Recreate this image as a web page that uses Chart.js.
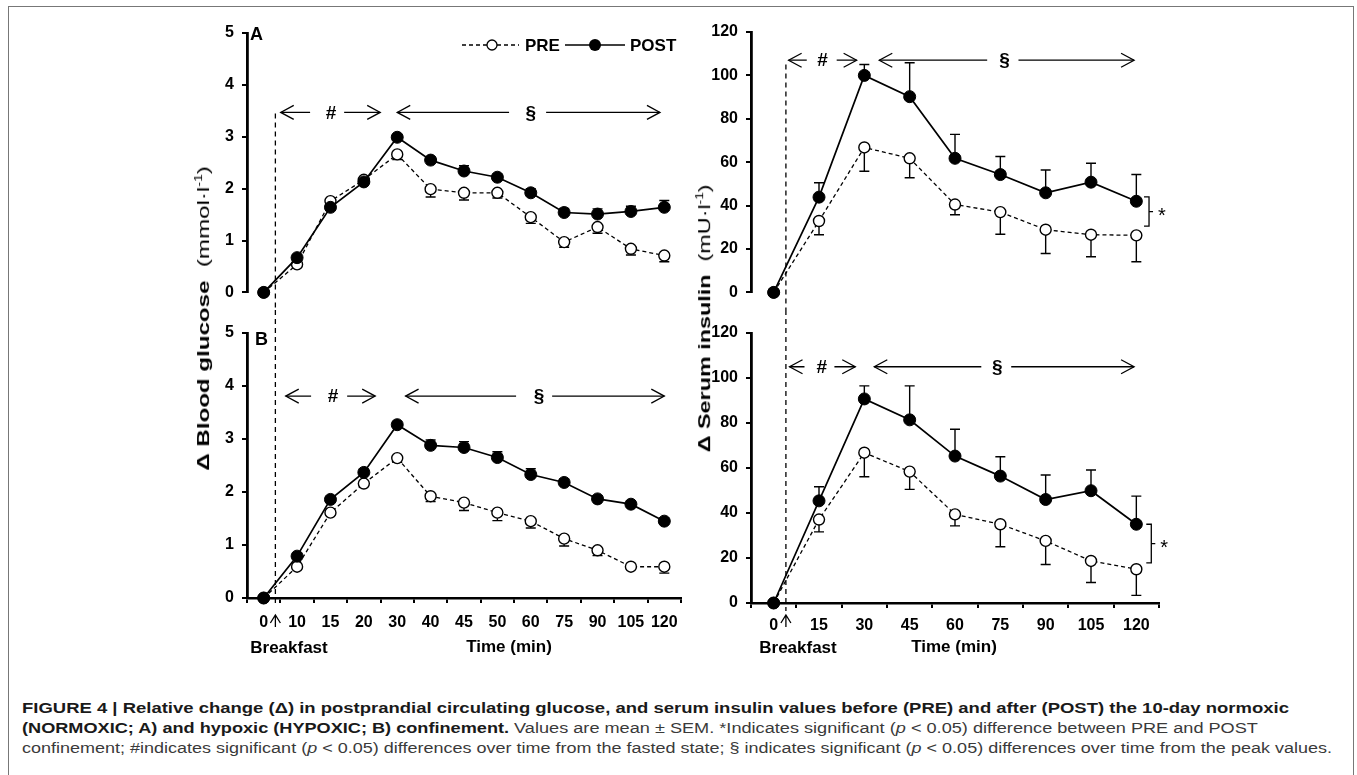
<!DOCTYPE html>
<html>
<head>
<meta charset="utf-8">
<script src="https://cdn.jsdelivr.net/npm/chart.js@4/dist/chart.umd.min.js"></script>
<style>
  html, body { margin:0; padding:0; background:#fff; }
  #wrap { position:relative; width:1357px; height:775px; overflow:hidden; background:#fff; font-family:'Liberation Sans', Arial, sans-serif; }
  #frame { position:absolute; left:8px; top:6px; width:1346px; height:780px; border:1.5px solid #777; box-sizing:border-box; }
  canvas { position:absolute; }
  .lbl { position:absolute; font-weight:bold; font-size:17px; color:#000; white-space:nowrap; transform:translate(-50%,-50%); }
  .ytitle { position:absolute; font-size:17px; color:#000; white-space:nowrap; transform-origin:center center; }
  .ytitle b { font-weight:bold; }
  .cap { position:absolute; left:22px; font-size:14px; line-height:20px; white-space:nowrap; color:#3a3a3a; transform-origin:left center; }
  .cap b { color:#1a1a1a; }
</style>
</head>
<body>
<div id="wrap">
  <div id="frame"></div>
  <canvas id="gA" width="520" height="300" style="left:170px;top:10px;"></canvas>
  <canvas id="gB" width="520" height="330" style="left:170px;top:310px;"></canvas>
  <canvas id="iA" width="530" height="300" style="left:680px;top:10px;"></canvas>
  <canvas id="iB" width="530" height="330" style="left:680px;top:310px;"></canvas>

  <div class="ytitle" id="yt1" data-cx="203" data-cy="318" data-len="305"><b>Δ Blood glucose</b>&nbsp; (mmol·l<sup style="font-size:10px">-1</sup>)</div>
  <div class="ytitle" id="yt2" data-cx="704" data-cy="318" data-len="268"><b>Δ Serum insulin</b>&nbsp; (mU·l<sup style="font-size:10px">-1</sup>)</div>

  <div class="lbl" style="left:289px;top:648px;">Breakfast</div>
  <div class="lbl" style="left:509px;top:647px;">Time (min)</div>
  <div class="lbl" style="left:798px;top:648px;">Breakfast</div>
  <div class="lbl" style="left:954px;top:647px;">Time (min)</div>

  <div class="cap" id="c1" data-w="1267" style="top:698px;"><b>FIGURE 4 | Relative change (Δ) in postprandial circulating glucose, and serum insulin values before (PRE) and after (POST) the 10-day normoxic</b></div>
  <div class="cap" id="c2" data-w="1236" style="top:718px;"><b>(NORMOXIC; A) and hypoxic (HYPOXIC; B) confinement.</b> Values are mean ± SEM. *Indicates significant (<i>p</i> &lt; 0.05) difference between PRE and POST</div>
  <div class="cap" id="c3" data-w="1310" style="top:738px;">confinement; #indicates significant (<i>p</i> &lt; 0.05) differences over time from the fasted state; § indicates significant (<i>p</i> &lt; 0.05) differences over time from the peak values.</div>
</div>

<script>
// ---------- DATA ----------
const glucoseTimes = ['0','10','15','20','30','40','45','50','60','75','90','105','120'];
const insulinTimes = ['0','15','30','45','60','75','90','105','120'];
const glucoseTicks = [0,1,2,3,4,5];
const insulinTicks = [0,20,40,60,80,100,120];

// Panel A (NORMOXIC) blood glucose, mmol/l
const glucPostA    = [0, 0.67, 1.64, 2.13, 2.99, 2.55, 2.34, 2.22, 1.92, 1.54, 1.51, 1.56, 1.64];
const glucPostAErr = [0, 0.05, 0.05, 0.06, 0.05, 0.06, 0.10, 0.06, 0.08, 0.08, 0.10, 0.10, 0.13];
const glucPreA     = [0, 0.54, 1.76, 2.17, 2.66, 1.99, 1.92, 1.92, 1.45, 0.97, 1.26, 0.84, 0.71];
const glucPreAErr  = [0, 0.05, 0.05, 0.05, 0.10, 0.15, 0.14, 0.10, 0.12, 0.10, 0.12, 0.12, 0.12];

// Panel B (HYPOXIC) blood glucose
const glucPostB    = [0, 0.79, 1.86, 2.37, 3.27, 2.88, 2.84, 2.65, 2.33, 2.18, 1.87, 1.77, 1.45];
const glucPostBErr = [0, 0.05, 0.05, 0.06, 0.06, 0.10, 0.11, 0.11, 0.11, 0.06, 0.06, 0.06, 0.06];
const glucPreB     = [0, 0.59, 1.61, 2.16, 2.64, 1.92, 1.80, 1.61, 1.45, 1.12, 0.90, 0.59, 0.59];
const glucPreBErr  = [0, 0.05, 0.05, 0.05, 0.08, 0.10, 0.15, 0.15, 0.13, 0.14, 0.10, 0.05, 0.12];

// Panel A serum insulin, mU/l
const insPostA    = [0, 43.9, 100.0, 90.2, 61.8, 54.3, 45.9, 50.8, 42.0];
const insPostAErr = [0, 6.6, 5.0, 15.6, 11.0, 8.3, 10.5, 8.7, 12.3];
const insPreA     = [0, 32.9, 66.8, 61.8, 40.5, 37.0, 28.9, 26.6, 26.3];
const insPreAErr  = [0, 6.3, 11.0, 9.0, 4.7, 10.2, 11.0, 10.2, 12.2];

// Panel B serum insulin
const insPostB    = [0, 45.4, 90.7, 81.4, 65.3, 56.4, 46.0, 49.9, 35.0];
const insPostBErr = [0, 6.3, 5.8, 15.1, 11.9, 8.6, 10.9, 9.2, 12.5];
const insPreB     = [0, 37.1, 66.8, 58.4, 39.4, 35.0, 27.6, 18.7, 15.0];
const insPreBErr  = [0, 5.5, 10.7, 7.9, 5.1, 10.0, 10.5, 9.6, 11.6];

// ---------- ANNOTATION PLACEMENT (category-index / value units) ----------
const annots = {
  gA: { y: 3.47, hash: [0.51,1.39,2.02,2.41,3.49], sect: [4.0,7.35,8.0,8.46,11.87], breakX: 0.35, dashTop: 3.45, letter: 'A', legend: true },
  gB: { y: 3.81, hash: [0.66,1.42,2.08,2.5,3.34], sect: [4.25,7.56,8.25,8.64,12.0], breakX: 0.35, letter: 'B', arrow: [17, 29] },
  iA: { y: 107, hash: [0.33,0.73,1.08,1.39,1.83], sect: [2.33,4.71,5.09,5.4,7.95], breakX: 0.27, dashTop: 105, bracket: [8.28, 44, 30.5] },
  iB: { y: 105, hash: [0.35,0.68,1.06,1.34,1.8], sect: [2.22,4.58,4.93,5.24,7.95], breakX: 0.27, bracket: [8.33, 35, 17.8], arrow: [12, 24] }
};

const FONT = "'Liberation Sans', Arial, sans-serif";
Chart.defaults.font.family = FONT;
Chart.defaults.font.weight = 'bold';
Chart.defaults.font.size = 16;
Chart.defaults.color = '#000';

function xAt(chart, idx) {
  const x = chart.scales.x;
  const p0 = x.getPixelForValue(0), p1 = x.getPixelForValue(1);
  return p0 + idx * (p1 - p0);
}

function chevron(ctx, x, y, dir) { // dir -1 left, +1 right
  ctx.beginPath();
  ctx.moveTo(x - dir*13, y - 7);
  ctx.lineTo(x, y);
  ctx.lineTo(x - dir*13, y + 7);
  ctx.stroke();
}

const errorBars = {
  id: 'errorBars',
  beforeDatasetsDraw(chart) {
    const ctx = chart.ctx, ys = chart.scales.y;
    chart.data.datasets.forEach((ds, di) => {
      const meta = chart.getDatasetMeta(di);
      meta.data.forEach((pt, i) => {
        const e = ds.err[i];
        if (!e) return;
        const y2 = ys.getPixelForValue(ds.data[i] + ds.errDir * e);
        ctx.save();
        ctx.strokeStyle = '#000'; ctx.lineWidth = 1.4; ctx.setLineDash([]);
        ctx.beginPath();
        ctx.moveTo(pt.x, pt.y); ctx.lineTo(pt.x, y2);
        ctx.moveTo(pt.x - 5, y2); ctx.lineTo(pt.x + 5, y2);
        ctx.stroke();
        ctx.restore();
      });
    });
  }
};

const decorations = {
  id: 'decorations',
  afterDraw(chart) {
    const a = annots[chart.canvas.id];
    const ctx = chart.ctx, ys = chart.scales.y, ca = chart.chartArea;
    ctx.save();
    ctx.strokeStyle = '#000'; ctx.fillStyle = '#000';

    // dashed breakfast line
    const bx = xAt(chart, a.breakX);
    ctx.lineWidth = 1.3; ctx.setLineDash([5, 4]);
    ctx.beginPath();
    if (a.dashTop !== undefined) { ctx.moveTo(bx, ys.getPixelForValue(a.dashTop)); ctx.lineTo(bx, chart.height); }
    else { ctx.moveTo(bx, 0); ctx.lineTo(bx, ca.bottom + 8); }
    ctx.stroke();
    ctx.setLineDash([]);

    // significance arrows
    const y = ys.getPixelForValue(a.y);
    ctx.lineWidth = 1.3;
    [a.hash, a.sect].forEach((s, k) => {
      const l1 = xAt(chart, s[0]), l2 = xAt(chart, s[1]), c = xAt(chart, s[2]), r1 = xAt(chart, s[3]), r2 = xAt(chart, s[4]);
      ctx.beginPath(); ctx.moveTo(l1, y); ctx.lineTo(l2, y); ctx.moveTo(r1, y); ctx.lineTo(r2, y); ctx.stroke();
      chevron(ctx, l1, y, -1); chevron(ctx, r2, y, 1);
      ctx.font = 'bold 19px ' + FONT; ctx.textAlign = 'center'; ctx.textBaseline = 'middle';
      ctx.fillText(k === 0 ? '#' : '§', c, y + 1);
    });

    // breakfast up-arrow under axis
    if (a.arrow) {
      const t = ca.bottom + a.arrow[0], b = ca.bottom + a.arrow[1];
      ctx.lineWidth = 1.3;
      ctx.beginPath(); ctx.moveTo(bx, t); ctx.lineTo(bx, b);
      ctx.moveTo(bx - 5, t + 8); ctx.lineTo(bx, t); ctx.lineTo(bx + 5, t + 8); ctx.stroke();
    }

    // panel letter
    if (a.letter) {
      ctx.font = 'bold 18px ' + FONT; ctx.textAlign = 'left'; ctx.textBaseline = 'middle';
      ctx.fillText(a.letter, ca.left + 3 + (a.letter === 'B' ? 5 : 0), ca.top + (a.letter === 'B' ? 7 : 2));
    }

    // legend
    if (a.legend) {
      const ly = ca.top + 12, R = ca.right;
      ctx.lineWidth = 1.3; ctx.setLineDash([4, 3]);
      ctx.beginPath(); ctx.moveTo(R - 219, ly); ctx.lineTo(R - 162, ly); ctx.stroke();
      ctx.setLineDash([]);
      ctx.beginPath(); ctx.arc(R - 189, ly, 5, 0, Math.PI * 2); ctx.fillStyle = '#fff'; ctx.fill(); ctx.stroke();
      ctx.fillStyle = '#000';
      ctx.font = 'bold 17px ' + FONT; ctx.textAlign = 'left'; ctx.textBaseline = 'middle';
      ctx.fillText('PRE', R - 156, ly + 1);
      ctx.lineWidth = 1.6;
      ctx.beginPath(); ctx.moveTo(R - 116, ly); ctx.lineTo(R - 56, ly); ctx.stroke();
      ctx.beginPath(); ctx.arc(R - 86, ly, 6, 0, Math.PI * 2); ctx.fill();
      ctx.fillText('POST', R - 51, ly + 1);
    }

    // significance bracket
    if (a.bracket) {
      const x = xAt(chart, a.bracket[0]), t = ys.getPixelForValue(a.bracket[1]), b = ys.getPixelForValue(a.bracket[2]);
      const m = (t + b) / 2;
      ctx.lineWidth = 1.3;
      ctx.beginPath();
      ctx.moveTo(x - 5, t); ctx.lineTo(x, t); ctx.lineTo(x, b); ctx.lineTo(x - 5, b);
      ctx.moveTo(x, m); ctx.lineTo(x + 4, m);
      ctx.stroke();
      ctx.font = '20px ' + FONT; ctx.textAlign = 'left'; ctx.textBaseline = 'middle';
      ctx.fillText('*', x + 9, m + 5);
    }
    ctx.restore();
  }
};

function makeChart(id, labels, post, postErr, pre, preErr, yMax, step, ticksArr, showX, yWidth, pad, xHeight, xPad) {
  return new Chart(document.getElementById(id), {
    type: 'line',
    data: {
      labels: labels,
      datasets: [
        { label: 'POST', data: post, err: postErr, errDir: 1,
          borderColor: '#000', borderWidth: 1.7, pointRadius: 6, pointBackgroundColor: '#000',
          pointBorderColor: '#000', pointBorderWidth: 1, tension: 0, clip: false, fill: false },
        { label: 'PRE', data: pre, err: preErr, errDir: -1,
          borderColor: '#000', borderWidth: 1.3, borderDash: [4, 3], pointRadius: 5.5, pointBackgroundColor: '#fff',
          pointBorderColor: '#000', pointBorderWidth: 1.4, tension: 0, clip: false, fill: false }
      ]
    },
    options: {
      responsive: false, animation: false, events: [],
      layout: { padding: pad },
      plugins: { legend: { display: false }, tooltip: { enabled: false }, title: { display: false } },
      scales: {
        x: {
          type: 'category', offset: true, display: showX,
          grid: { display: true, drawOnChartArea: false, drawTicks: true, tickLength: 5, color: '#000', lineWidth: 2, offset: true },
          border: { display: true, color: '#000', width: 2.5 },
          ticks: { autoSkip: false, maxRotation: 0, minRotation: 0, padding: xPad, font: { size: 16, weight: 'bold' }, color: '#000' },
          afterFit(scale) { if (xHeight) scale.height = xHeight; }
        },
        y: {
          min: 0, max: yMax,
          afterBuildTicks(scale) { scale.ticks = ticksArr.map(v => ({ value: v })); },
          grid: { display: true, drawOnChartArea: false, drawTicks: true, tickLength: 5, color: '#000', lineWidth: 2 },
          border: { display: true, color: '#000', width: 2.8 },
          ticks: { stepSize: step, padding: 8, font: { size: 16, weight: 'bold' }, color: '#000' },
          afterFit(scale) { scale.width = yWidth; }
        }
      }
    },
    plugins: [errorBars, decorations]
  });
}

makeChart('gA', glucoseTimes, glucPostA, glucPostAErr, glucPreA, glucPreAErr, 5, 1, glucoseTicks, false, 77, { top: 23, right: 9, bottom: 15, left: 0 }, 0, 9);
makeChart('gB', glucoseTimes, glucPostB, glucPostBErr, glucPreB, glucPreBErr, 5, 1, glucoseTicks, true, 77, { top: 23, right: 9, bottom: 0, left: 0 }, 42, 10);
makeChart('iA', insulinTimes, insPostA, insPostAErr, insPreA, insPreAErr, 120, 20, insulinTicks, false, 71, { top: 22, right: 51, bottom: 16, left: 0 }, 0, 8);
makeChart('iB', insulinTimes, insPostB, insPostBErr, insPreB, insPreBErr, 120, 20, insulinTicks, true, 71, { top: 23, right: 51, bottom: 0, left: 0 }, 37, 8);

// fit caption lines and axis titles
['c1','c2','c3'].forEach(id => {
  const el = document.getElementById(id);
  const w = el.scrollWidth;
  el.style.transform = 'scaleX(' + (parseFloat(el.dataset.w) / w) + ')';
});
['yt1','yt2'].forEach(id => {
  const el = document.getElementById(id);
  const w = el.offsetWidth, h = el.offsetHeight;
  const k = parseFloat(el.dataset.len) / w;
  el.style.left = (parseFloat(el.dataset.cx) - w / 2) + 'px';
  el.style.top = (parseFloat(el.dataset.cy) - h / 2) + 'px';
  el.style.transform = 'rotate(-90deg) scaleX(' + k + ')';
});
</script>
</body>
</html>
